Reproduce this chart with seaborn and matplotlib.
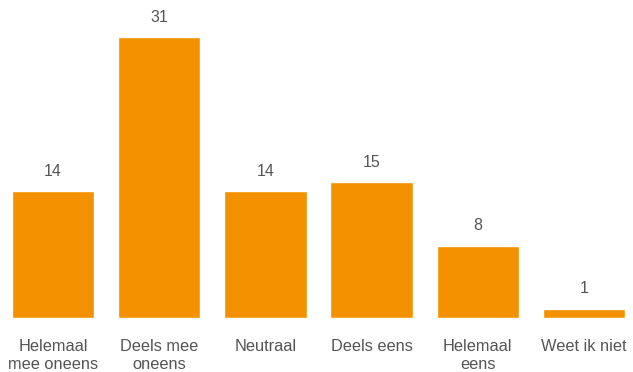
import matplotlib
matplotlib.use("Agg")
import matplotlib.pyplot as plt
import seaborn as sns
import pandas as pd

categories = ["Helemaal\nmee oneens", "Deels mee\noneens", "Neutraal",
              "Deels eens", "Helemaal\neens", "Weet ik niet"]
counts = [14, 31, 14, 15, 8, 1]

sns.set_theme(style="white")
plt.rcParams["font.family"] = ["Liberation Sans", "DejaVu Sans"]

df = pd.DataFrame({"categorie": categories, "aantal": counts})

fig = plt.figure(figsize=(6.33, 3.72), dpi=100)
ax = fig.add_axes([0, 54 / 372, 1, 317 / 372])
sns.barplot(data=df, x="categorie", y="aantal", color="#F39100",
            saturation=1, width=0.775, ax=ax)

for i, v in enumerate(counts):
    ax.annotate(str(v), xy=(i, v), xytext=(0, 9), textcoords="offset points",
                ha="center", va="bottom", fontsize=11.5, color="#555555")

ax.set_xlim(-0.499, 5.461)
ax.set_ylim(0, 35)
ax.set_xlabel("")
ax.set_ylabel("")
ax.set_yticks([])
ax.tick_params(axis="x", length=0, pad=15, labelsize=11.8, labelcolor="#555555")
for lab in ax.get_xticklabels():
    lab.set_linespacing(1.25)
for s in ax.spines.values():
    s.set_visible(False)

fig.savefig("out.png", dpi=100)
